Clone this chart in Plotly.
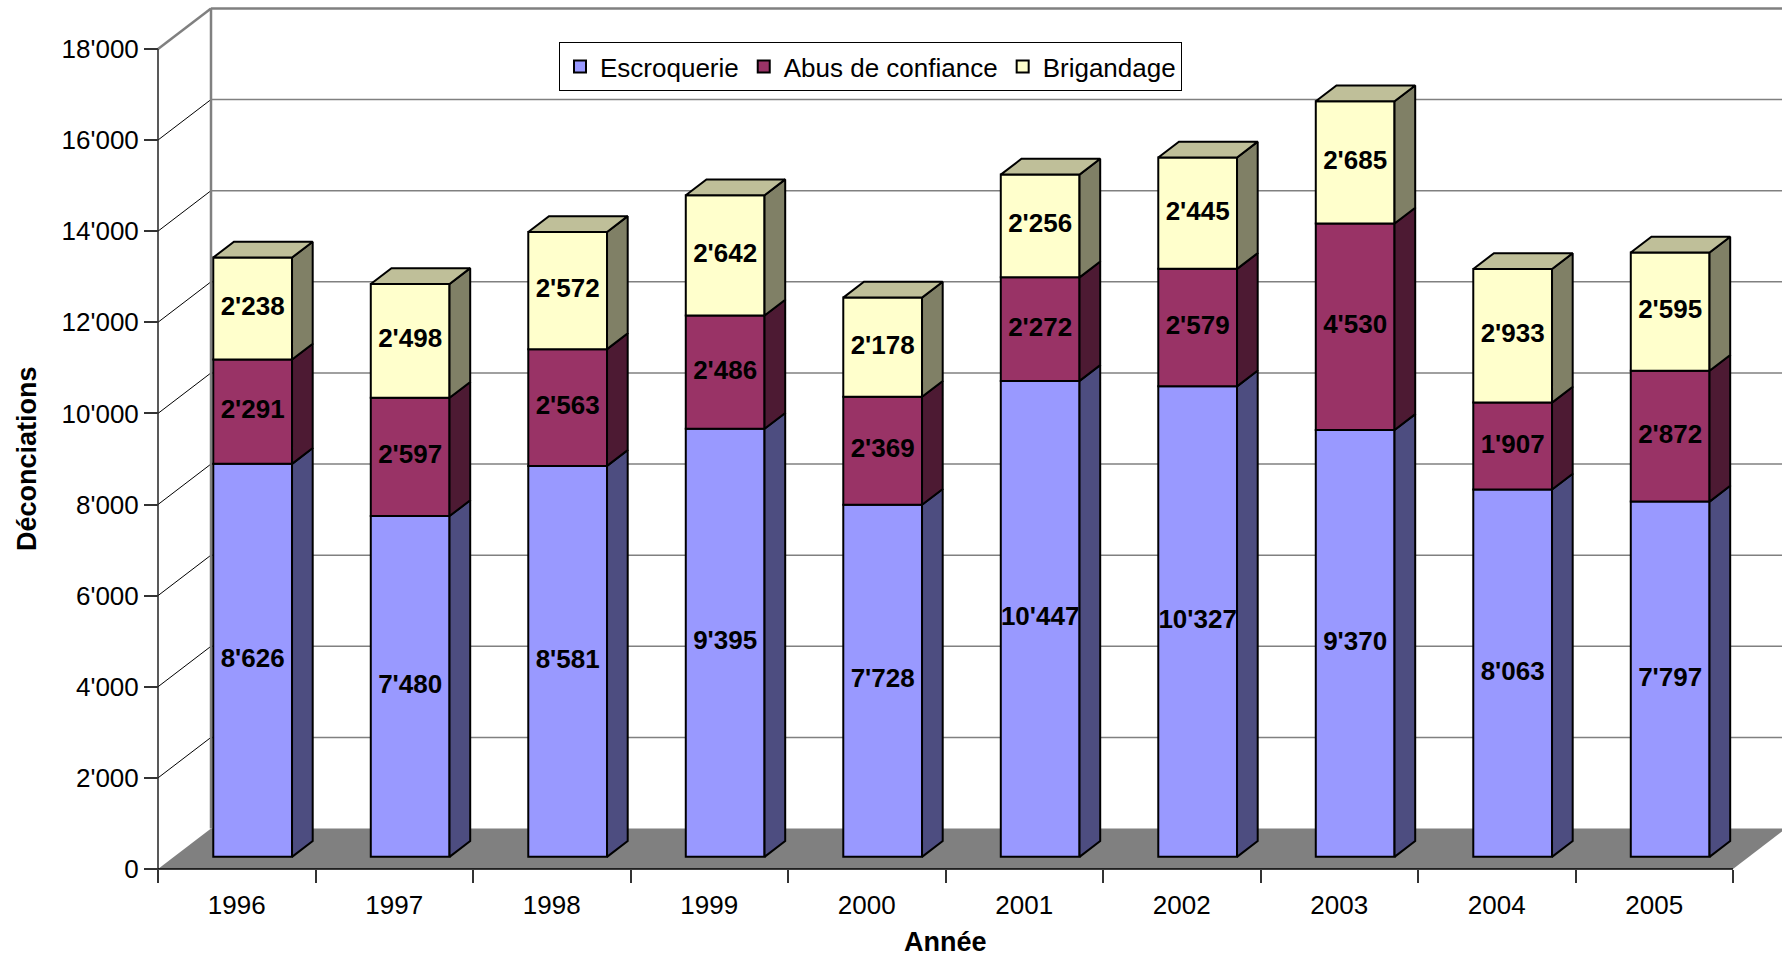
import plotly.graph_objects as go

# ---------------- data ----------------
YEARS = ["1996", "1997", "1998", "1999", "2000", "2001", "2002", "2003", "2004", "2005"]
ESCROQUERIE = [8626, 7480, 8581, 9395, 7728, 10447, 10327, 9370, 8063, 7797]
ABUS_DE_CONFIANCE = [2291, 2597, 2563, 2486, 2369, 2272, 2579, 4530, 1907, 2872]
BRIGANDAGE = [2238, 2498, 2572, 2642, 2178, 2256, 2445, 2685, 2933, 2595]
SERIES_NAMES = ["Escroquerie", "Abus de confiance", "Brigandage"]
Y_TICKS = [0, 2000, 4000, 6000, 8000, 10000, 12000, 14000, 16000, 18000]
Y_TITLE = "Déconciations"
X_TITLE = "Année"

# ---------------- style ----------------
FONT = "Liberation Sans, Arial, sans-serif"
FRONT_COLORS = ["#9999FF", "#993366", "#FFFFCC"]
SIDE_COLORS = ["#4D4D80", "#4D1A33", "#808066"]
TOP_COLOR = "#BFBF99"
FLOOR_COLOR = "#808080"
WALL_LINE = "#808080"

W, H = 1782, 957
M_L, M_R, M_T, M_B = 150, 0, 0, 80
PX_PER_CAT = 157.5
PX_PER_UNIT = 0.04556
AXIS_X_PX = 158
AXIS_Y_PX = 869

X_LO = -(AXIS_X_PX - M_L) / PX_PER_CAT
X_HI = X_LO + (W - M_L - M_R) / PX_PER_CAT
Y_HI = (AXIS_Y_PX - M_T) / PX_PER_UNIT
Y_LO = -(H - M_B - AXIS_Y_PX) / PX_PER_UNIT

DEPTH_X = 53 / PX_PER_CAT
DEPTH_Y = 40.5 / PX_PER_UNIT
Z_FRONT = 0.30
Z_DEPTH = 0.39
BAR_W = 0.5


def fmt(v):
    return f"{v:,}".replace(",", "'")


series = [ESCROQUERIE, ABUS_DE_CONFIANCE, BRIGANDAGE]
n = len(YEARS)
x_shift = Z_FRONT * DEPTH_X
y_shift = Z_FRONT * DEPTH_Y
ddx = Z_DEPTH * DEPTH_X
ddy = Z_DEPTH * DEPTH_Y
centers = [i + 0.5 for i in range(n)]
bar_x = [c + x_shift for c in centers]

bases = []
cum = [0] * n
for s in series:
    bases.append(cum[:])
    cum = [a + b for a, b in zip(cum, s)]

fig = go.Figure()

# front faces
for k, s in enumerate(series):
    fig.add_trace(go.Bar(
        x=bar_x, y=s, base=[b + y_shift for b in bases[k]], width=BAR_W,
        name=SERIES_NAMES[k],
        marker=dict(color=FRONT_COLORS[k], line=dict(color="black", width=2)),
        textposition="none", hoverinfo="skip",
    ))

# data labels (drawn before side faces so the side faces overlap long labels)
for k, s in enumerate(series):
    fig.add_trace(go.Scatter(
        x=bar_x, y=[b + v / 2 + y_shift for b, v in zip(bases[k], s)],
        mode="text", text=[f"<b>{fmt(v)}</b>" for v in s],
        textfont=dict(family=FONT, size=26, color="black"),
        showlegend=False, hoverinfo="skip", cliponaxis=False,
    ))

# side faces
for k, s in enumerate(series):
    xs, ys = [], []
    for i in range(n):
        r = bar_x[i] + BAR_W / 2
        y0 = bases[k][i] + y_shift
        y1 = y0 + s[i]
        xs += [r, r + ddx, r + ddx, r, r, None]
        ys += [y0, y0 + ddy, y1 + ddy, y1, y0, None]
    fig.add_trace(go.Scatter(
        x=xs, y=ys, mode="lines", fill="toself", fillcolor=SIDE_COLORS[k],
        line=dict(color="black", width=2), showlegend=False, hoverinfo="skip",
    ))

# top faces (top series)
xs, ys = [], []
for i in range(n):
    l = bar_x[i] - BAR_W / 2
    r = bar_x[i] + BAR_W / 2
    yt = cum[i] + y_shift
    xs += [l, l + ddx, r + ddx, r, l, None]
    ys += [yt, yt + ddy, yt + ddy, yt, yt, None]
fig.add_trace(go.Scatter(
    x=xs, y=ys, mode="lines", fill="toself", fillcolor=TOP_COLOR,
    line=dict(color="black", width=2), showlegend=False, hoverinfo="skip",
))

# ---------------- walls / floor ----------------
shapes = []
x_end = n + DEPTH_X
shapes.append(dict(type="path", xref="x", yref="y", layer="below",
                   path=f"M 0,0 L {n},0 L {n + DEPTH_X},{DEPTH_Y} L {DEPTH_X},{DEPTH_Y} Z",
                   fillcolor=FLOOR_COLOR, line=dict(width=0)))
top = Y_TICKS[-1]
for v in Y_TICKS[1:]:
    is_top = v == top
    shapes.append(dict(type="line", xref="x", yref="y", layer="below",
                       x0=DEPTH_X, x1=x_end + 1, y0=v + DEPTH_Y, y1=v + DEPTH_Y,
                       line=dict(color=WALL_LINE, width=2.5 if is_top else 1.5)))
    shapes.append(dict(type="line", xref="x", yref="y", layer="below",
                       x0=0, x1=DEPTH_X, y0=v, y1=v + DEPTH_Y,
                       line=dict(color=WALL_LINE if is_top else "black",
                                 width=2.5 if is_top else 1)))
shapes.append(dict(type="line", xref="x", yref="y", layer="below",
                   x0=DEPTH_X, x1=DEPTH_X, y0=DEPTH_Y, y1=top + DEPTH_Y,
                   line=dict(color=WALL_LINE, width=2.5)))
shapes.append(dict(type="line", xref="x", yref="y", layer="below",
                   x0=0, x1=0, y0=0, y1=top, line=dict(color="#222", width=1.5)))
shapes.append(dict(type="line", xref="x", yref="y", layer="below",
                   x0=0, x1=n, y0=0, y1=0, line=dict(color="black", width=1.5)))

plot_h = H - M_T - M_B
plot_w = W - M_L - M_R

fig.update_layout(
    width=W, height=H, autosize=False,
    margin=dict(l=M_L, r=M_R, t=M_T, b=M_B, pad=0),
    paper_bgcolor="white", plot_bgcolor="white",
    font=dict(family=FONT, color="black"),
    separators=".'",
    barmode="overlay",
    shapes=shapes,
    showlegend=True,
    legend=dict(
        orientation="h", x=(559 - M_L) / plot_w, y=1 - (42 - M_T) / plot_h,
        xanchor="left", yanchor="top", bgcolor="white",
        bordercolor="black", borderwidth=1, font=dict(size=26),
        itemwidth=30, tracegroupgap=0,
    ),
    xaxis=dict(
        range=[X_LO, X_HI], anchor="free", position=(0 - Y_LO) / (Y_HI - Y_LO),
        tickmode="array", tickvals=centers, ticktext=YEARS,
        ticks="outside", ticklen=13, tickcolor="rgba(0,0,0,0)",
        minor=dict(tickmode="array", tickvals=list(range(n + 1)), ticks="outside",
                   ticklen=13, tickwidth=1.5, tickcolor="#333", showgrid=False),
        showgrid=False, zeroline=False, showline=False,
        tickfont=dict(size=26, color="black"), fixedrange=True,
    ),
    yaxis=dict(
        range=[Y_LO, Y_HI], anchor="free", position=(0 - X_LO) / (X_HI - X_LO),
        tickmode="array", tickvals=Y_TICKS, tickformat=",d",
        ticks="outside", ticklen=14, tickwidth=1.5, tickcolor="#333",
        showgrid=False, zeroline=False, showline=False,
        tickfont=dict(size=26, color="black"), fixedrange=True,
    ),
    annotations=[
        dict(text=f"<b>{Y_TITLE}</b>", xref="paper", yref="y",
             x=(27 - M_L) / plot_w, y=Y_TICKS[-1] / 2, textangle=-90,
             showarrow=False, xanchor="center", yanchor="middle",
             font=dict(size=27, color="black")),
        dict(text=f"<b>{X_TITLE}</b>", xref="x", yref="paper",
             x=n / 2, y=(H - M_B - 942) / plot_h,
             showarrow=False, xanchor="center", yanchor="middle",
             font=dict(size=27, color="black")),
    ],
)

fig.write_html(
    "out.html",
    config={"displayModeBar": False},
    post_script="document.body.style.margin='0';document.body.style.overflow='hidden';",
)
